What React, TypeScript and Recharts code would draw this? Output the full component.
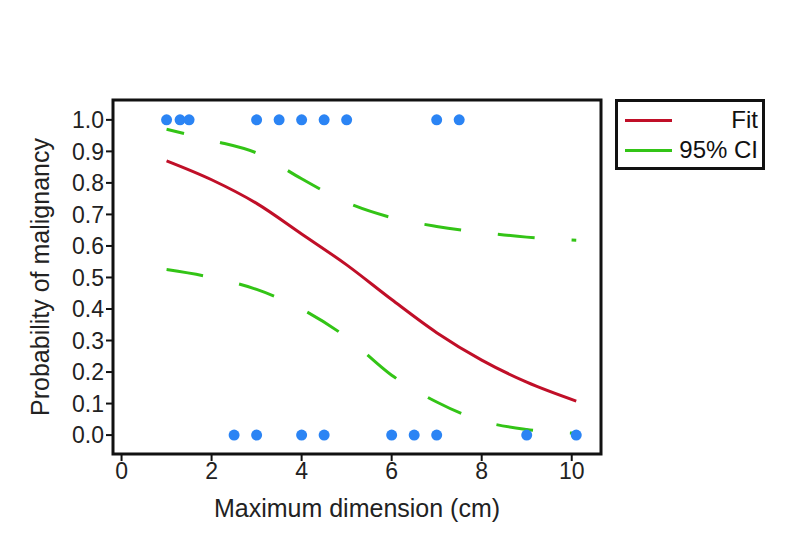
import React from 'react';
import { ComposedChart, Line, Scatter, XAxis, YAxis, Legend, ReferenceArea } from 'recharts';

const curveX = [1, 2, 3, 4, 5, 6, 7, 8, 9, 10.1];
const fitValues = [0.87, 0.81, 0.735, 0.638, 0.54, 0.43, 0.325, 0.238, 0.168, 0.108];
const upperCI = [0.97, 0.935, 0.895, 0.813, 0.738, 0.69, 0.662, 0.643, 0.628, 0.618];
const lowerCI = [0.525, 0.5, 0.462, 0.4, 0.31, 0.19, 0.105, 0.045, 0.018, 0.006];

// observed cases
const obsX = [1, 1.3, 1.5, 3, 3.5, 4, 4.5, 5, 7, 7.5, 2.5, 3, 4, 4.5, 6, 6.5, 7, 9, 10.1];
const obsY = [1, 1, 1, 1, 1, 1, 1, 1, 1, 1, 0, 0, 0, 0, 0, 0, 0, 0, 0];

const xTicks = [0, 2, 4, 6, 8, 10];
const yTicks = [0, 0.1, 0.2, 0.3, 0.4, 0.5, 0.6, 0.7, 0.8, 0.9, 1.0];

const curveData = curveX.map((x, i) => ({ x, fit: fitValues[i], upper: upperCI[i], lower: lowerCI[i] }));
const pointData = obsX.map((x, i) => ({ x, y: obsY[i] }));

const RED = '#c00f28';
const GREEN = '#33c416';
const BLUE = '#2b84f4';
const FONT = '"Liberation Sans", Arial, Helvetica, sans-serif';

const xDomain = [-0.19, 10.65];
const yDomain = [-0.06, 1.063];

const renderLegend = () => (
  <div
    style={{
      position: 'relative',
      width: 150,
      height: 71,
      border: '3px solid #111',
      boxSizing: 'border-box',
      background: '#fff',
      fontFamily: FONT,
      fontSize: 24,
      color: '#111',
    }}
  >
    <div style={{ position: 'absolute', left: 7, top: 17, width: 47, height: 3, background: RED }} />
    <div style={{ position: 'absolute', right: 4, top: 4, lineHeight: '28px' }}>Fit</div>
    <div style={{ position: 'absolute', left: 7, top: 47, width: 47, height: 3, background: GREEN }} />
    <div style={{ position: 'absolute', right: 4, top: 34, lineHeight: '28px' }}>95% CI</div>
  </div>
);

export default function App() {
  return (
    <div style={{ position: 'absolute', left: 0, top: 0, width: 789, height: 560, background: '#fff', fontFamily: FONT }}>
      <ComposedChart width={789} height={560} data={curveData} margin={{ top: 100, right: 38, bottom: 0, left: 0 }}>
        <XAxis
          type="number"
          dataKey="x"
          domain={xDomain}
          allowDataOverflow
          ticks={xTicks}
          interval={0}
          axisLine={false}
          tickLine={{ stroke: '#111', strokeWidth: 2 }}
          tickSize={7}
          tickMargin={2}
          tick={{ fontSize: 23, fill: '#222', fontFamily: FONT }}
          height={106}
          label={{ value: 'Maximum dimension (cm)', position: 'insideBottom', offset: 43, style: { fontSize: 25, fill: '#222', fontFamily: FONT } }}
        />
        <YAxis
          type="number"
          domain={yDomain}
          allowDataOverflow
          ticks={yTicks}
          interval={0}
          tickFormatter={(v: number) => v.toFixed(1)}
          axisLine={false}
          tickLine={{ stroke: '#111', strokeWidth: 2 }}
          tickSize={7}
          tickMargin={2}
          tick={{ fontSize: 23, fill: '#222', fontFamily: FONT }}
          width={113}
          label={{
            value: 'Probability of malignancy',
            angle: -90,
            position: 'insideLeft',
            offset: 40,
            style: { textAnchor: 'middle', fontSize: 25, fill: '#222', fontFamily: FONT },
          }}
        />
        <ReferenceArea
          x1={xDomain[0]}
          x2={xDomain[1]}
          y1={yDomain[0]}
          y2={yDomain[1]}
          fill="none"
          stroke="#111"
          strokeWidth={3}
          fillOpacity={0}
        />
        <Line type="monotone" dataKey="upper" name="95% CI" stroke={GREEN} strokeWidth={3} strokeDasharray="37 37" strokeDashoffset={19} dot={false} isAnimationActive={false} legendType="none" />
        <Line type="monotone" dataKey="lower" name="95% CI" stroke={GREEN} strokeWidth={3} strokeDasharray="37 37" dot={false} isAnimationActive={false} legendType="none" />
        <Line type="monotone" dataKey="fit" name="Fit" stroke={RED} strokeWidth={3} dot={false} isAnimationActive={false} />
        <Scatter data={pointData} dataKey="y" fill={BLUE} isAnimationActive={false} legendType="none"
          shape={(p: any) => <circle cx={p.cx} cy={p.cy} r={5.5} fill={BLUE} />} />
        <Legend
          layout="vertical"
          align="right"
          verticalAlign="top"
          content={renderLegend}
          wrapperStyle={{ position: 'absolute', left: 615, top: 99, width: 150, height: 71 }}
        />
      </ComposedChart>
    </div>
  );
}
